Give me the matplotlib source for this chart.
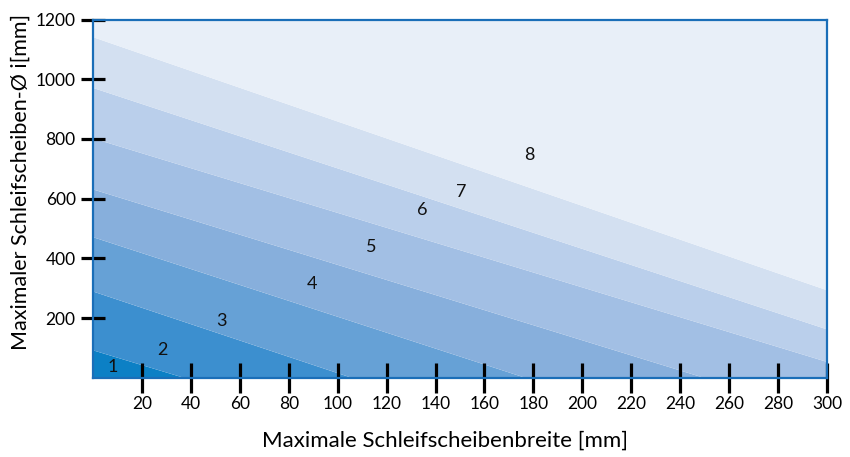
import numpy as np
import matplotlib
matplotlib.use("Agg")
import matplotlib.pyplot as plt

plt.rcParams["font.family"] = ["Lato", "DejaVu Sans"]

# band boundaries: y at x=0, then where the line reaches y=0 or x=300
bound_x = [
    [0, 37.5, 300],
    [0, 106, 300],
    [0, 177, 300],
    [0, 250, 300],
    [0, 300],
    [0, 300],
    [0, 300],
]
bound_y = [
    [93, 0, 0],
    [290, 0, 0],
    [472, 0, 0],
    [632, 0, 0],
    [803, 54],
    [972, 163],
    [1142, 294],
]

band_labels = ["1", "2", "3", "4", "5", "6", "7", "8"]
label_x = [8.2, 28.2, 52.4, 89.6, 113.7, 134.6, 150.6, 178.5]
label_y = [36, 93, 190, 314, 438, 562, 623, 747]

band_colors = ["#0c80c5", "#3c8fcf", "#66a1d6", "#87afdc",
               "#a2bfe4", "#bacfeb", "#d3e0f1", "#e8eff8"]

x_ticks = list(range(20, 301, 20))
y_ticks = list(range(200, 1201, 200))

fig = plt.figure(figsize=(8.5, 4.57), dpi=100)
ax = fig.add_axes([0.1094, 0.1735, 0.8636, 0.7838])

grid = np.array(sorted(set(v for xs in bound_x for v in xs)))
curves = [np.zeros_like(grid, dtype=float)]
for xs, ys in zip(bound_x, bound_y):
    curves.append(np.interp(grid, xs, ys))
curves.append(np.full_like(grid, 1200, dtype=float))

for i, color in enumerate(band_colors):
    ax.fill_between(grid, curves[i], curves[i + 1], color=color, lw=0)

for t, lx, ly in zip(band_labels, label_x, label_y):
    ax.text(lx, ly, t, fontsize=13, ha="center", va="center", color="#111111")

ax.set_xlim(0, 300)
ax.set_ylim(0, 1200)
ax.set_xticks(x_ticks)
ax.set_yticks(y_ticks)

for s in ax.spines.values():
    s.set_color("#1a6eb8")
    s.set_linewidth(1.6)
    s.set_zorder(3)

ax.tick_params(axis="x", direction="inout", length=21, width=2.3,
               color="black", labelsize=12.5, pad=3)
ax.tick_params(axis="y", direction="inout", length=17, width=2.3,
               color="black", labelsize=12.5, pad=4)

ax.set_xlabel("Maximale Schleifscheibenbreite [mm]", fontsize=16, va="center")
ax.xaxis.set_label_coords(0.48, -0.177)
ax.set_ylabel("Maximaler Schleifscheiben-Ø i[mm]", fontsize=15.5, va="center")
ax.yaxis.set_label_coords(-0.099, 0.546)

fig.savefig("out.png", dpi=100)
